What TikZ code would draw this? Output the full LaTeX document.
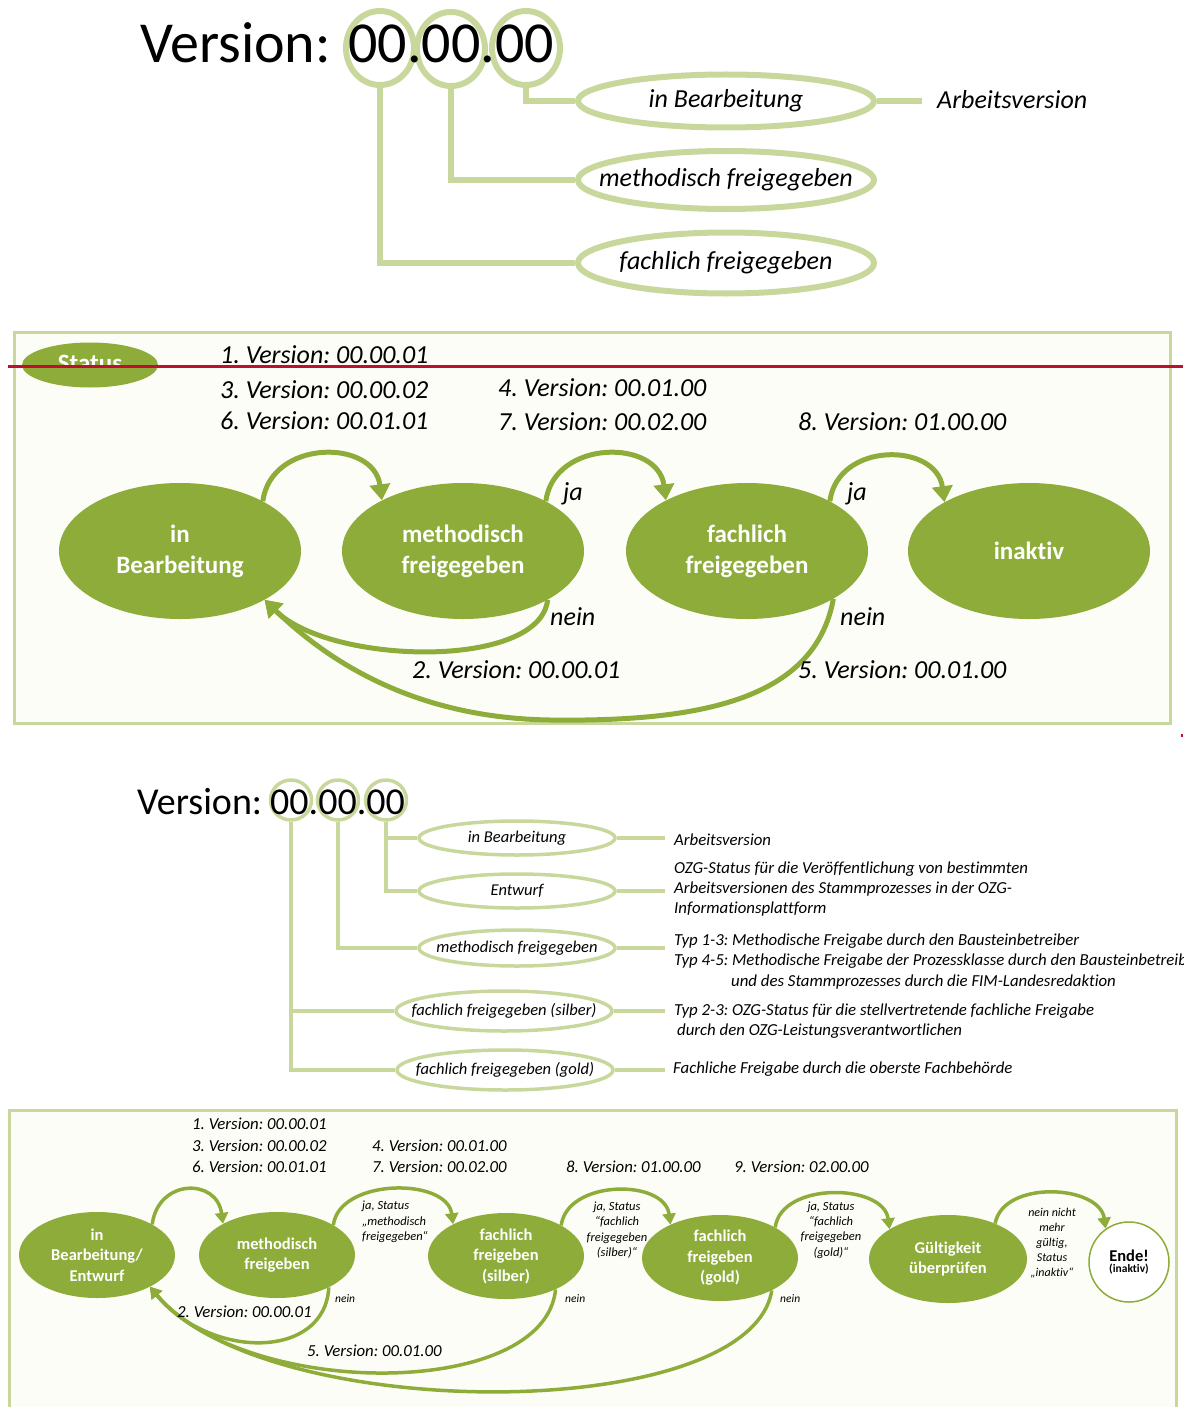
\documentclass[tikz,border=0pt]{standalone}
\usepackage{fontspec}
\setmainfont{Carlito}[Ligatures={TeX,NoCommon}]
\usetikzlibrary{shapes.geometric,arrows.meta}
\definecolor{lg}{RGB}{200,216,156}
\definecolor{dg}{RGB}{141,172,57}
\definecolor{redl}{RGB}{192,14,46}
\definecolor{boxbg}{RGB}{253,253,248}
\newcommand{\fs}[2]{\fontsize{#1}{#2}\selectfont}
\frenchspacing
\begin{document}
\begin{tikzpicture}[x=1pt,y=-1pt,
  ringA/.style={ellipse,draw=lg,line width=6pt,minimum width=68pt,minimum height=74pt,inner sep=0pt},
  ringB/.style={ellipse,draw=lg,line width=3.5pt,minimum width=41pt,minimum height=40pt,inner sep=0pt},
  lblA/.style={ellipse,draw=lg,line width=6pt,minimum width=296pt,inner xsep=-60pt,inner ysep=0pt,font=\itshape\fs{26}{30}},
  lblB/.style={ellipse,draw=lg,line width=3.5pt,inner xsep=-45pt,inner ysep=0pt,font=\itshape\fs{16.5}{20}},
  conA/.style={draw=lg,line width=6pt},
  conB/.style={draw=lg,line width=3.5pt},
  stA/.style={ellipse,fill=dg,minimum width=242pt,minimum height=136pt,inner sep=0pt,text=white,align=center,font=\bfseries\fs{25}{31}},
  stB/.style={ellipse,fill=dg,minimum width=156pt,minimum height=86pt,inner sep=0pt,text=white,align=center,font=\bfseries\fs{16.5}{20.5}},
  arrA/.style={draw=dg,line width=5pt,-{Triangle[length=16pt,width=20pt]}},
  arrB/.style={draw=dg,line width=3.5pt,-{Triangle[length=11pt,width=13pt]}},
  tA/.style={anchor=base west,inner sep=0pt,font=\itshape\fs{26}{30}},
  tB/.style={anchor=base west,inner sep=0pt,font=\itshape\fs{16.8}{20}},
  tS/.style={inner sep=0pt,font=\itshape\fs{12.5}{15.3}},
  tN/.style={anchor=base west,inner sep=0pt,font=\itshape\fs{11.5}{14}},
]
\useasboundingbox (0,0) rectangle (1183,1407);

% ---------------- Section 1 ----------------
\node[ringA] (r1) at (380,48) {};
\node[ringA] (r2) at (451,49) {};
\node[ringA] (r3) at (526,48) {};
\node[anchor=base west,inner sep=0pt,font=\fs{58}{60}] (v1) at (140,63) {Version:};
\node[anchor=base west,inner sep=0pt,font=\fs{58}{60}] (d1) at (348,63) {00.00.00};
\node[lblA,minimum height=53pt] (ib) at (726,101) {in Bearbeitung};
\node[lblA,minimum height=58pt] (mf) at (726,180) {methodisch freigegeben};
\node[lblA,minimum height=61pt] (ff) at (726,263) {fachlich freigegeben};
\draw[conA] (r3.south) |- (ib.west);
\draw[conA] (r2.south) |- (mf.west);
\draw[conA] (r1.south) |- (ff.west);
\coordinate (aw) at (922,101);
\draw[conA] (ib.east) -- (aw);
\node[tA] (awt) at (937,109) {Arbeitsversion};

% ---------------- Section 2 ----------------
\draw[lg,line width=3pt,fill=boxbg] (14,332) rectangle (1170,723);
\node[ellipse,fill=dg,minimum width=136pt,minimum height=45pt,inner sep=0pt] (st) at (90,365) {};
\begin{scope}
  \clip (0,300) rectangle (1183,365);
  \node[text=white,inner sep=0pt,font=\bfseries\fs{25}{30}] (stt) at (90,363) {Status};
\end{scope}
\node[tA] (v2a) at (220,363) {1. Version: 00.00.01};
\node[tA] (v2b) at (220,398) {3. Version: 00.00.02};
\node[tA] (v2c) at (220,429) {6. Version: 00.01.01};
\node[tA] (v2d) at (498,396) {4. Version: 00.01.00};
\node[tA] (v2e) at (498,430) {7. Version: 00.02.00};
\node[tA] (v2f) at (798,430) {8. Version: 01.00.00};

\node[stA] (E1) at (180,551) {in\\Bearbeitung};
\node[stA] (E2) at (463,551) {methodisch\\freigegeben};
\node[stA] (E3) at (747,551) {fachlich\\freigegeben};
\node[stA] (E4) at (1029,551) {inaktiv};

\draw[arrA] (E1.31) .. controls +(8,-62) and +(-8,-62) .. (E2.148);
\draw[arrA] (E2.31) .. controls +(8,-62) and +(-8,-62) .. (E3.148);
\draw[arrA] (E3.31) .. controls +(8,-60) and +(-8,-60) .. (E4.150);
\draw[arrA] (E2.-30) .. controls (540,670) and (330,665) .. (E1.-30);
\draw[arrA] (E3.-29) .. controls (815,700) and (700,722) .. (550,720) .. controls (420,718) and (333,666) .. (E1.-30);

\node[tA] (ja1) at (563,500) {ja};
\node[tA] (ja2) at (847,500) {ja};
\node[tA] (ne1) at (550,625) {nein};
\node[tA] (ne2) at (840,625) {nein};
\node[tA] (v2g) at (412,678) {2. Version: 00.00.01};
\node[tA] (v2h) at (798,678) {5. Version: 00.01.00};

% red line
\coordinate (rl1) at (8,366);
\coordinate (rl2) at (1183,366);
\draw[redl,line width=3pt] (rl1) -- (rl2);
\fill[redl] (1180.5,734) rectangle (1183,737);

% ---------------- Section 3 ----------------
\node[ringB] (q1) at (291,800) {};
\node[ringB] (q2) at (338,800) {};
\node[ringB] (q3) at (386,800) {};
\node[anchor=base west,inner sep=0pt,font=\fs{38}{40}] (v3) at (137,814) {Version:};
\node[anchor=base west,inner sep=0pt,font=\fs{38}{40}] (d3) at (270,814) {00.00.00};

\node[lblB,minimum width=196pt,minimum height=34pt] (sB) at (517,838) {in Bearbeitung};
\node[lblB,minimum width=196pt,minimum height=34pt] (sE) at (517,891) {Entwurf};
\node[lblB,minimum width=196pt,minimum height=36pt] (sM) at (517,948) {methodisch freigegeben};
\node[lblB,minimum width=216pt,minimum height=40pt] (sS) at (504,1011) {fachlich freigegeben (silber)};
\node[lblB,minimum width=216pt,minimum height=40pt] (sG) at (505,1070) {fachlich freigegeben (gold)};

\draw[conB] (q3.south) |- (sB.west);
\draw[conB] (q3.south) |- (sE.west);
\draw[conB] (q2.south) |- (sM.west);
\draw[conB] (q1.south) |- (sS.west);
\draw[conB] (q1.south) |- (sG.west);

\coordinate (eB) at (665,838);
\coordinate (eE) at (665,891);
\coordinate (eM) at (665,948);
\coordinate (eS) at (665,1011);
\coordinate (eG) at (665,1070);
\draw[conB] (sB.east) -- (eB);
\draw[conB] (sE.east) -- (eE);
\draw[conB] (sM.east) -- (eM);
\draw[conB] (sS.east) -- (eS);
\draw[conB] (sG.east) -- (eG);

\node[tB] (x1) at (674,845) {Arbeitsversion};
\node[tB] (x2a) at (674,873) {OZG-Status für die Veröffentlichung von bestimmten};
\node[tB] (x2b) at (674,893) {Arbeitsversionen des Stammprozesses in der OZG-};
\node[tB] (x2c) at (674,913) {Informationsplattform};
\node[tB] (x3a) at (674,945) {Typ 1-3: Methodische Freigabe durch den Bausteinbetreiber};
\node[tB] (x3b) at (674,965) {Typ 4-5: Methodische Freigabe der Prozessklasse durch den Bausteinbetreiber};
\node[tB] (x3c) at (731,986) {und des Stammprozesses durch die FIM-Landesredaktion};
\node[tB] (x4a) at (674,1015) {Typ 2-3: OZG-Status für die stellvertretende fachliche Freigabe};
\node[tB] (x4b) at (677,1035) {durch den OZG-Leistungsverantwortlichen};
\node[tB] (x5) at (673,1073) {Fachliche Freigabe durch die oberste Fachbehörde};

% ---------------- Section 4 ----------------
\draw[lg,line width=3pt,fill=boxbg] (9,1110) rectangle (1176,1425);
\node[tB] (w1) at (192,1129) {1. Version: 00.00.01};
\node[tB] (w2) at (192,1151) {3. Version: 00.00.02};
\node[tB] (w3) at (192,1172) {6. Version: 00.01.01};
\node[tB] (w4) at (372,1151) {4. Version: 00.01.00};
\node[tB] (w5) at (372,1172) {7. Version: 00.02.00};
\node[tB] (w6) at (566,1172) {8. Version: 01.00.00};
\node[tB] (w7) at (734,1172) {9. Version: 02.00.00};

\node[stB] (F1) at (97,1255) {in\\Bearbeitung/\\Entwurf};
\node[stB] (F2) at (277,1255) {methodisch\\freigeben};
\node[stB] (F3) at (506,1256) {fachlich\\freigeben\\(silber)};
\node[stB] (F4) at (720,1258) {fachlich\\freigeben\\(gold)};
\node[stB,minimum width=158pt,minimum height=88pt] (F5) at (948,1259) {Gültigkeit\\überprüfen};
\node[circle,draw=dg,line width=1.5pt,fill=white,minimum size=80pt,inner sep=0pt,align=center] (F6) at (1129,1262)
  {{\bfseries\fs{16.5}{18}Ende!}\\[-1pt]{\bfseries\fs{11.5}{13}(inaktiv)}};

\draw[arrB] (F1.29) .. controls +(6,-46) and +(-6,-46) .. (F2.150);
\draw[arrB] (F2.28) .. controls +(6,-47) and +(-6,-47) .. (F3.149);
\draw[arrB] (F3.29) .. controls +(6,-46) and +(-6,-46) .. (F4.146);
\draw[arrB] (F4.29) .. controls +(6,-46) and +(-6,-46) .. (F5.153);
\draw[arrB] (F5.37) .. controls +(8,-44) and +(-6,-44) .. (F6.125);

\draw[arrB] (F2.-32) .. controls (325,1360) and (210,1360) .. (F1.-31);
\draw[arrB] (F3.-34) .. controls (545,1400) and (245,1400) .. (F1.-31);
\draw[arrB] (F4.-32) .. controls (750,1425) and (265,1425) .. (F1.-31);

\node[tS,anchor=west,align=left] (k1) at (362,1222) {ja, Status\\„methodisch\\freigegeben“};
\node[tS,align=center] (k2) at (617,1230) {ja, Status\\“fachlich\\freigegeben\\(silber)“};
\node[tS,align=center] (k3) at (831,1230) {ja, Status\\“fachlich\\freigegeben\\(gold)“};
\node[tS,align=center,font=\itshape\fs{12}{14.8}] (k4) at (1052,1243) {nein nicht\\mehr\\gültig,\\Status\\„inaktiv“};

\node[tN] (n1) at (335,1302) {nein};
\node[tN] (n2) at (565,1302) {nein};
\node[tN] (n3) at (780,1302) {nein};
\node[tB] (w8) at (177,1317) {2. Version: 00.00.01};
\node[tB] (w9) at (307,1356) {5. Version: 00.01.00};
\end{tikzpicture}
\end{document}
